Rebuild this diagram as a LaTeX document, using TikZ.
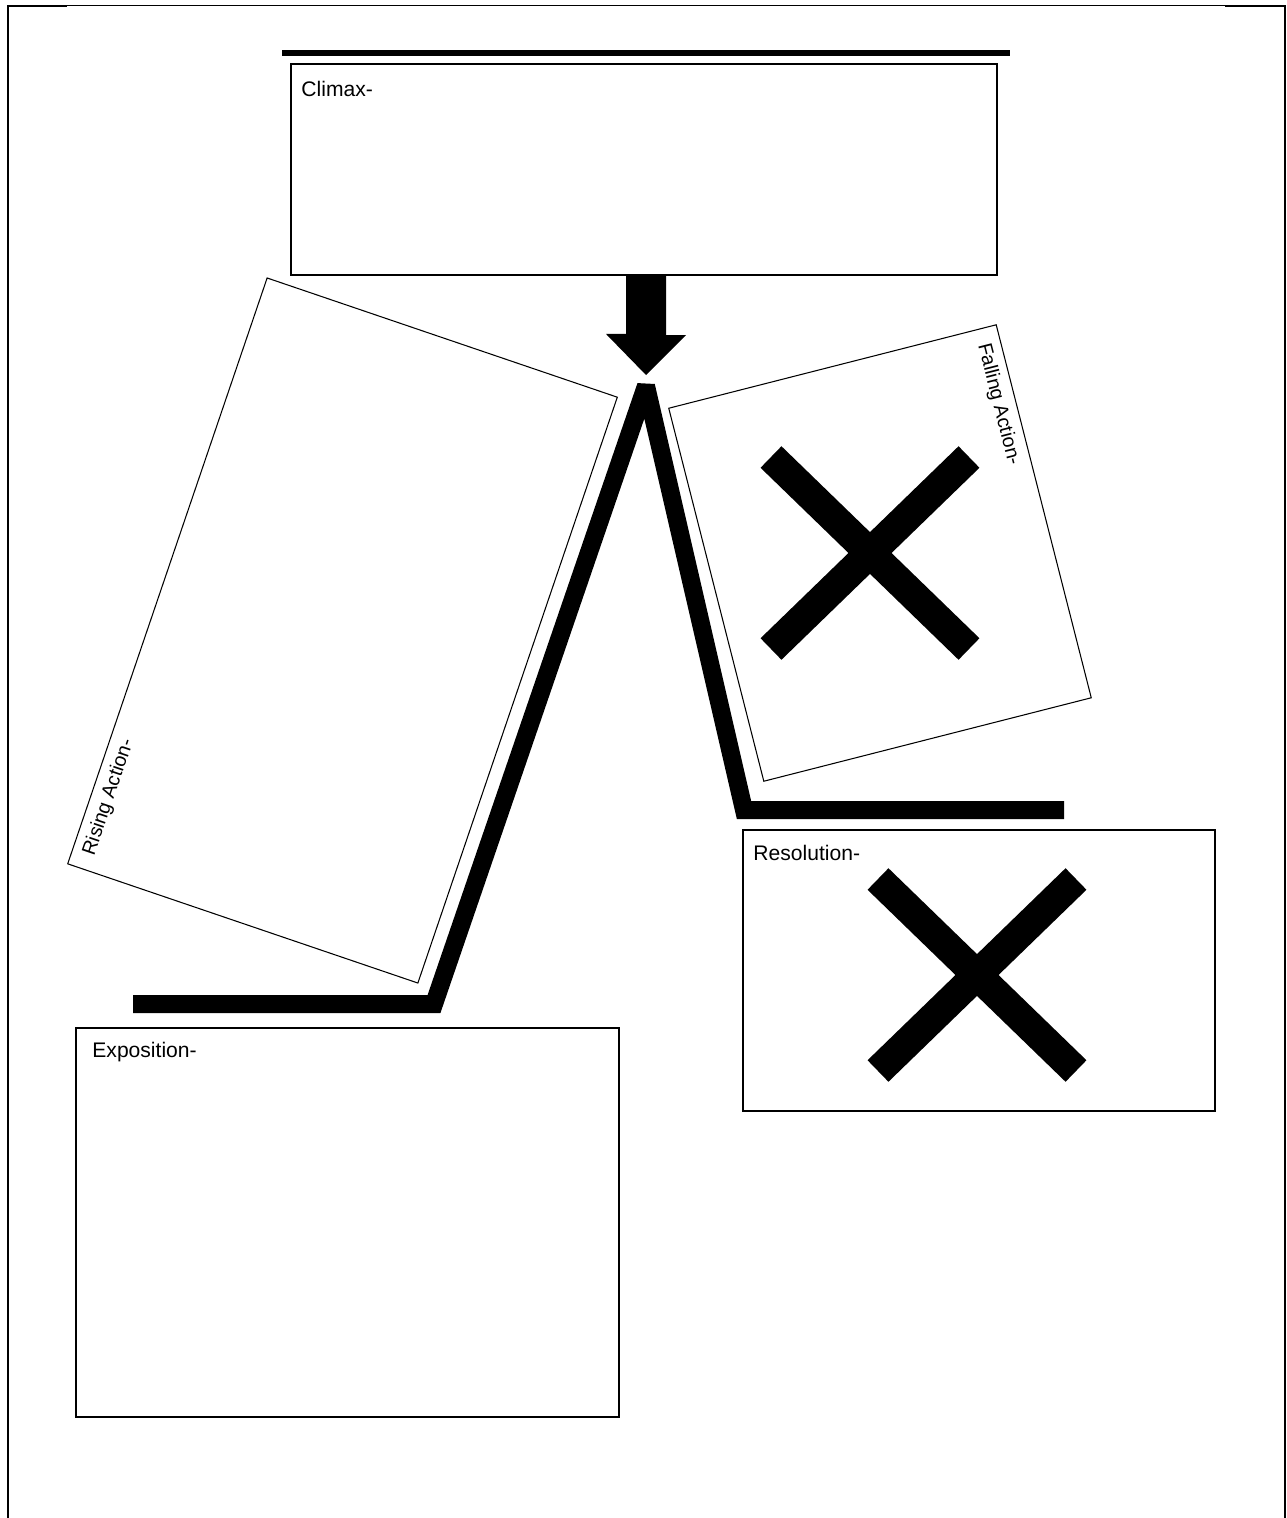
\documentclass[tikz,border=0pt]{standalone}
\usepackage{fontspec}
\setmainfont{Liberation Sans}
\usepackage{tikz}
\usetikzlibrary{positioning,calc}
\tikzset{
  box/.style={
    draw=black,line width=1.2pt,inner sep=0pt,outer sep=0pt
  },
  tiltbox/.style={
    draw=black,line width=.6pt,inner sep=0pt,outer sep=0pt
  },
  boxlabel/.style={
    font=\fontsize{12}{14}\selectfont,inner sep=0pt,anchor=base west
  },
  sidelabel/.style={
    font=\fontsize{11.2}{13}\selectfont,inner xsep=.3cm,inner ysep=.16cm,
    anchor=north west
  },
  plotline/.style={line width=.36cm,line join=miter,miter limit=2},
  bar/.style={line width=3.4pt},
  cross/.style={line width=.6cm},
  frame/.style={line width=1.2pt}
}
\begin{document}
\begin{tikzpicture}[x=0.02cm,y=-0.02cm]
\useasboundingbox (0,0) rectangle (1286,1518);

% page frame
\draw[frame] (67,6) -- (8,6) -- (8,1518);
\draw[frame] (1225,6) -- (1285,6) -- (1285,1518);
\draw[line width=.6pt] (67,5.5) -- (1225,5.5);

% the five parts
\node[box,minimum width=14.12cm,minimum height=4.22cm] (climax) at (644,169.5) {};
\node[tiltbox,minimum width=7.4cm,minimum height=12.38cm,rotate=-18.8] (rising) at (342.5,630.5) {};
\node[tiltbox,minimum width=6.76cm,minimum height=7.7cm,rotate=14.3] (falling) at (880,553) {};
\node[box,minimum width=9.44cm,minimum height=5.62cm] (reso) at (979,970.5) {};
\node[box,minimum width=10.86cm,minimum height=7.78cm] (expo) at (347.5,1222.5) {};

\node[boxlabel] at ([shift={(10,32)}]climax.north west) {Climax-};
\node[boxlabel] at ([shift={(10,30)}]reso.north west) {Resolution-};
\node[boxlabel] at ([shift={(16,29)}]expo.north west) {Exposition-};
\node[sidelabel,rotate=71.2] at (rising.south west) {Rising Action-};
\node[sidelabel,rotate=-75.7] at (falling.north east) {Falling Action-};

\draw[bar] ([shift={(-9,-11)}]climax.north west) -- ([shift={(13,-11)}]climax.north east);

% plot line
\coordinate (expoL) at (133,1004);
\coordinate (expoR) at (434,1004);
\coordinate (peak) at (646,386);
\coordinate (resoL) at (744,810);
\coordinate (resoR) at (1064,810);
\draw[plotline] (expoL) -- (expoR) -- (peak) -- (resoL) -- (resoR);

% arrow down to the peak
\coordinate (tip) at (646,375);
\fill (climax.south -| tip) ++(-20,0) -- ++(0,59) -- ++(-20,0) -- (tip)
  -- ++(40,-40) -- ++(-20,0) -- ++(0,-59) -- cycle;

% crosses
\draw[cross] ([shift={(-109,-96)}]falling.center) -- ([shift={(89,96)}]falling.center);
\draw[cross] ([shift={(89,-96)}]falling.center) -- ([shift={(-109,96)}]falling.center);
\draw[cross] ([shift={(-101,-91.5)}]reso.center) -- ([shift={(97,100.5)}]reso.center);
\draw[cross] ([shift={(97,-91.5)}]reso.center) -- ([shift={(-101,100.5)}]reso.center);
\end{tikzpicture}
\end{document}
